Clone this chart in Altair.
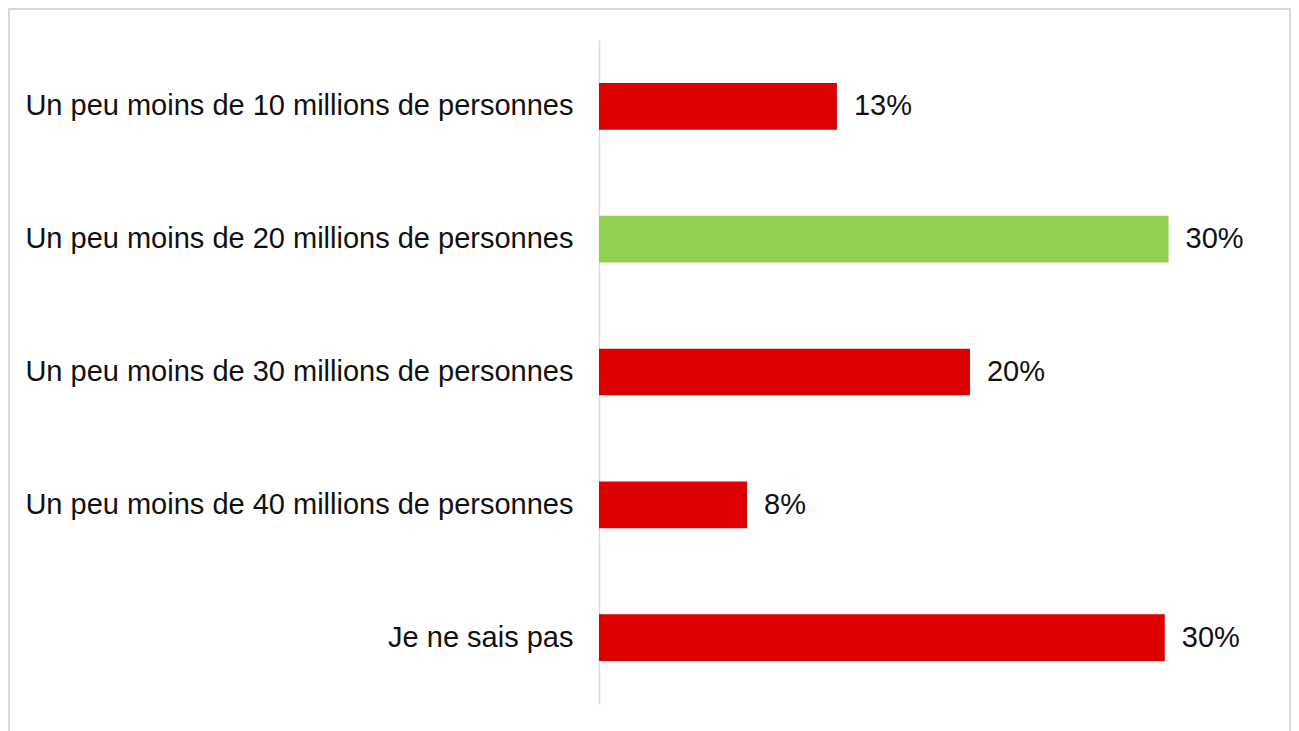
import altair as alt
import pandas as pd

categories = [
    "Un peu moins de 10 millions de personnes",
    "Un peu moins de 20 millions de personnes",
    "Un peu moins de 30 millions de personnes",
    "Un peu moins de 40 millions de personnes",
    "Je ne sais pas",
]
values = [12.7, 30.4, 19.8, 7.9, 30.2]
labels = ["13%", "30%", "20%", "8%", "30%"]
correct = [False, True, False, False, False]

df = pd.DataFrame({"cat": categories, "val": values, "lab": labels, "correct": correct})

FONT = "Liberation Sans"
y_enc = alt.Y(
    "cat:N",
    sort=categories,
    title=None,
    scale=alt.Scale(paddingInner=0.648, paddingOuter=0.324),
    axis=alt.Axis(
        ticks=False,
        labelPadding=26,
        labelFontSize=29,
        labelFont=FONT,
        labelColor="#111111",
        labelLimit=700,
        domainColor="#D9D9D9",
        domainWidth=1.5,
        grid=False,
    ),
)
x_enc = alt.X("val:Q", title=None, scale=alt.Scale(domain=[0, 34], nice=False), axis=None)

bars = alt.Chart(df).mark_bar().encode(
    x=x_enc,
    y=y_enc,
    color=alt.Color(
        "correct:N",
        scale=alt.Scale(domain=[False, True], range=["#DD0000", "#92D050"]),
        legend=None,
    ),
)

text = alt.Chart(df).mark_text(
    align="left", baseline="middle", dx=17, fontSize=29, font=FONT, color="#111111"
).encode(x=x_enc, y=y_enc, text="lab:N")

frame = alt.Chart(pd.DataFrame({"a": [0]})).mark_rect(
    fill="transparent", stroke="#D9D9D9", strokeWidth=2
).encode(
    x=alt.value(-590), x2=alt.value(691), y=alt.value(-31), y2=alt.value(700)
)

chart = alt.layer(frame, bars, text).properties(
    width=637, height=664, padding=0
).configure_view(stroke="transparent")

chart.save("out.html", embed_options={"renderer": "svg", "actions": False})
